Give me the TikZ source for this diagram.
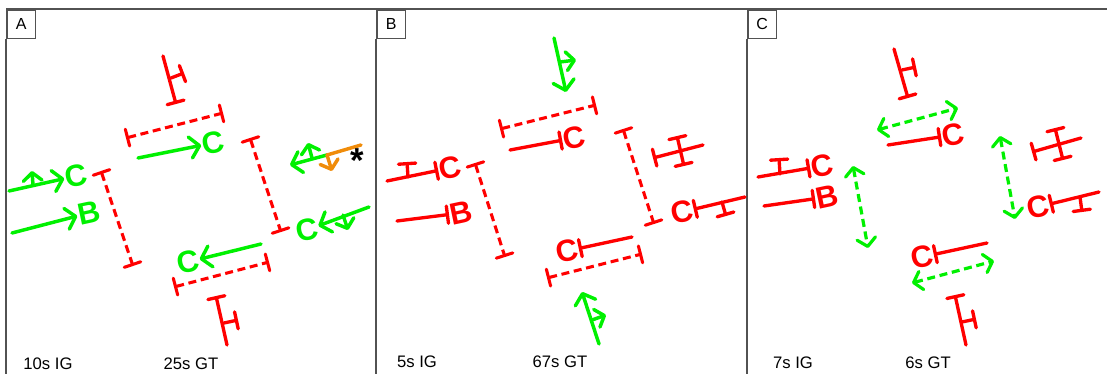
\documentclass[tikz,border=0pt]{standalone}
\usepackage{fontspec}
\setmainfont{Liberation Sans}
\usetikzlibrary{arrows.meta}

\begin{document}
\begin{tikzpicture}[
    x=0.75pt, y=-0.75pt,
    frame/.style={draw=black!68, line width=1.25pt},
    panellabel/.style={frame, anchor=north west, minimum size=21.5pt, inner sep=0pt, font=\fontsize{12}{14}\selectfont},
    timing/.style={inner sep=0pt, font=\fontsize{12.5}{14}\selectfont},
    gene/.style={inner sep=0.5pt, rotate=12, font=\fontsize{23}{23}\selectfont\bfseries},
    greengene/.style={gene, text=actgreen},
    redgene/.style={gene, text=inhred},
    activate/.style={-{Straight Barb[length=7pt, width=16pt, round]}, draw=actgreen, line width=2.6pt, line cap=round},
    branch/.style={activate, -{Straight Barb[length=6pt, width=14pt, round]}},
    inhibit/.style={-{Bar[width=13pt, round]}, draw=inhred, line width=2.5pt, line cap=round},
    crossbar/.style={{Bar[width=13pt, round]}-{Bar[width=13pt, round]}, draw=inhred, line width=2.5pt, line cap=round},
    dashinhibit/.style={{Bar[width=13pt, round]}-{Bar[width=13pt, round]}, draw=inhred, line width=2.3pt, dash pattern=on 6pt off 3.5pt},
    dashboth/.style={{Straight Barb[length=6pt, width=14pt, round]}-{Straight Barb[length=6pt, width=14pt, round]}, draw=actgreen, line width=2.4pt, dash pattern=on 6pt off 3.5pt}
]
\definecolor{actgreen}{RGB}{0,240,0}
\definecolor{inhred}{RGB}{255,0,0}
\definecolor{alertorange}{RGB}{240,140,10}
\useasboundingbox (0,0) rectangle (1107,374);

% Panel frames
\node[panellabel] (panelA) at (6,9) {A};
\node[panellabel] (panelB) at (376,9) {B};
\node[panellabel] (panelC) at (747,9) {C};
\coordinate (topright) at (1107,9);
\coordinate (bottomA) at (6,374);
\coordinate (bottomB) at (376,374);
\coordinate (bottomC) at (747,374);
\draw[frame] (panelA.north west) -- (topright);
\draw[frame] (panelA.south west) -- (bottomA);
\draw[frame] (panelB.south west) -- (bottomB);
\draw[frame] (panelC.south west) -- (bottomC);

% Timings
\node[timing] (igA) at (48,364) {10s IG};
\node[timing] (gtA) at (191,364) {25s GT};
\node[timing] (igB) at (417,362) {5s IG};
\node[timing] (gtB) at (560,362) {67s GT};
\node[timing] (igC) at (793,363) {7s IG};
\node[timing] (gtC) at (928,363) {6s GT};

% Panel A genes
\node[greengene] (aCleft) at (76,176) {C};
\node[greengene] (aBleft) at (89,213) {B};
\node[greengene] (aCtop) at (213,143) {C};
\node[greengene] (aCbottom) at (188,262) {C};
\node[greengene] (aCright) at (307,230) {C};

% Panel A activators
\coordinate (a1) at (9,191);
\coordinate (a2) at (33,185);
\coordinate (a3) at (32,171);
\coordinate (a4) at (12,233);
\coordinate (a5) at (138,158);
\coordinate (a6) at (261,244);
\coordinate (a7) at (369,207);
\coordinate (a8) at (343,215);
\coordinate (a9) at (348,230);
\draw[activate] (a1) -- (aCleft);
\draw[branch] (a2) -- (a3);
\draw[activate] (a4) -- (aBleft);
\draw[activate] (a5) -- (aCtop);
\draw[activate] (a6) -- (aCbottom);
\draw[activate] (a7) -- (aCright);
\draw[branch] (a8) -- (a9);

% Panel A mutated arm
\coordinate (a10) at (327,155);
\coordinate (a11) at (290,165);
\coordinate (a12) at (312,158);
\coordinate (a13) at (308,143);
\coordinate (a14) at (361,145);
\coordinate (a15) at (332,171);
\draw[activate] (a10) -- (a11);
\draw[branch] (a12) -- (a13);
\draw[activate, draw=alertorange, -] (a14) -- (a10);
\draw[branch, draw=alertorange] (a10) -- (a15);
\node[inner sep=0pt, font=\fontsize{26}{26}\selectfont\bfseries] (star) at (357,161) {*};

% Panel A dashed repressors
\coordinate (a16) at (126,138);
\coordinate (a17) at (223,113);
\coordinate (a18) at (101,171);
\coordinate (a19) at (133,266);
\coordinate (a20) at (250,138);
\coordinate (a21) at (281,232);
\coordinate (a22) at (174,287);
\coordinate (a23) at (269,262);
\draw[dashinhibit] (a16) -- (a17);
\draw[dashinhibit] (a18) -- (a19);
\draw[dashinhibit] (a20) -- (a21);
\draw[dashinhibit] (a22) -- (a23);

% Panel A repressors
\coordinate (a24) at (163,56);
\coordinate (a25) at (176,104);
\coordinate (a26) at (171,78);
\coordinate (a27) at (184,73);
\coordinate (a28) at (227,345);
\coordinate (a29) at (216,296);
\coordinate (a30) at (224,323);
\coordinate (a31) at (238,320);
\draw[inhibit] (a24) -- (a25);
\draw[inhibit] (a26) -- (a27);
\draw[inhibit] (a28) -- (a29);
\draw[inhibit] (a30) -- (a31);

% Panel B genes
\node[redgene] (bCleft) at (450,168) {C};
\node[redgene] (bBleft) at (461,213) {B};
\node[redgene] (bCtop) at (574,138) {C};
\node[redgene] (bCbottom) at (567,251) {C};
\node[redgene] (bCright) at (682,212) {C};

% Panel B repressors
\coordinate (b1) at (387,181);
\coordinate (b2) at (408,177);
\coordinate (b3) at (407,162);
\coordinate (b4) at (397,221);
\coordinate (b5) at (510,150);
\coordinate (b6) at (632,237);
\coordinate (b7) at (745,197);
\coordinate (b8) at (722,202);
\coordinate (b9) at (726,216);
\coordinate (b10) at (703,145);
\coordinate (b11) at (653,158);
\coordinate (b12) at (677,136);
\coordinate (b13) at (684,166);
\draw[inhibit] (b1) -- (bCleft);
\draw[inhibit] (b2) -- (b3);
\draw[inhibit] (b4) -- (bBleft);
\draw[inhibit] (b5) -- (bCtop);
\draw[inhibit] (b6) -- (bCbottom);
\draw[inhibit] (b7) -- (bCright);
\draw[inhibit] (b8) -- (b9);
\draw[inhibit] (b10) -- (b11);
\draw[crossbar] (b12) -- (b13);

% Panel B dashed repressors
\coordinate (b14) at (500,129);
\coordinate (b15) at (596,105);
\coordinate (b16) at (475,163);
\coordinate (b17) at (505,257);
\coordinate (b18) at (623,129);
\coordinate (b19) at (654,224);
\coordinate (b20) at (547,278);
\coordinate (b21) at (642,254);
\draw[dashinhibit] (b14) -- (b15);
\draw[dashinhibit] (b16) -- (b17);
\draw[dashinhibit] (b18) -- (b19);
\draw[dashinhibit] (b20) -- (b21);

% Panel B activators
\coordinate (b22) at (554,38);
\coordinate (b23) at (566,92);
\coordinate (b24) at (560,62);
\coordinate (b25) at (576,60);
\coordinate (b26) at (599,344);
\coordinate (b27) at (582,292);
\coordinate (b28) at (592,320);
\coordinate (b29) at (606,315);
\draw[activate] (b22) -- (b23);
\draw[branch] (b24) -- (b25);
\draw[activate] (b26) -- (b27);
\draw[branch] (b28) -- (b29);

% Panel C genes
\node[redgene] (cCleft) at (822,166) {C};
\node[redgene] (cBleft) at (827,197) {B};
\node[redgene] (cCtop) at (953,135) {C};
\node[redgene] (cCbottom) at (922,257) {C};
\node[redgene] (cCright) at (1038,207) {C};

% Panel C repressors
\coordinate (c1) at (758,177);
\coordinate (c2) at (780,174);
\coordinate (c3) at (779,158);
\coordinate (c4) at (764,206);
\coordinate (c5) at (888,145);
\coordinate (c6) at (987,243);
\coordinate (c7) at (1099,192);
\coordinate (c8) at (1080,197);
\coordinate (c9) at (1082,212);
\coordinate (c10) at (894,49);
\coordinate (c11) at (908,98);
\coordinate (c12) at (902,70);
\coordinate (c13) at (916,67);
\coordinate (c14) at (1081,138);
\coordinate (c15) at (1032,152);
\coordinate (c16) at (1055,128);
\coordinate (c17) at (1063,160);
\coordinate (c18) at (966,345);
\coordinate (c19) at (955,295);
\coordinate (c20) at (962,322);
\coordinate (c21) at (976,319);
\draw[inhibit] (c1) -- (cCleft);
\draw[inhibit] (c2) -- (c3);
\draw[inhibit] (c4) -- (cBleft);
\draw[inhibit] (c5) -- (cCtop);
\draw[inhibit] (c6) -- (cCbottom);
\draw[inhibit] (c7) -- (cCright);
\draw[inhibit] (c8) -- (c9);
\draw[inhibit] (c10) -- (c11);
\draw[inhibit] (c12) -- (c13);
\draw[inhibit] (c14) -- (c15);
\draw[crossbar] (c16) -- (c17);
\draw[inhibit] (c18) -- (c19);
\draw[inhibit] (c20) -- (c21);

% Panel C dashed activators
\coordinate (c22) at (877,130);
\coordinate (c23) at (958,108);
\coordinate (c24) at (853,166);
\coordinate (c25) at (868,248);
\coordinate (c26) at (1000,136);
\coordinate (c27) at (1015,219);
\coordinate (c28) at (912,283);
\coordinate (c29) at (994,261);
\draw[dashboth] (c22) -- (c23);
\draw[dashboth] (c24) -- (c25);
\draw[dashboth] (c26) -- (c27);
\draw[dashboth] (c28) -- (c29);

\end{tikzpicture}
\end{document}
